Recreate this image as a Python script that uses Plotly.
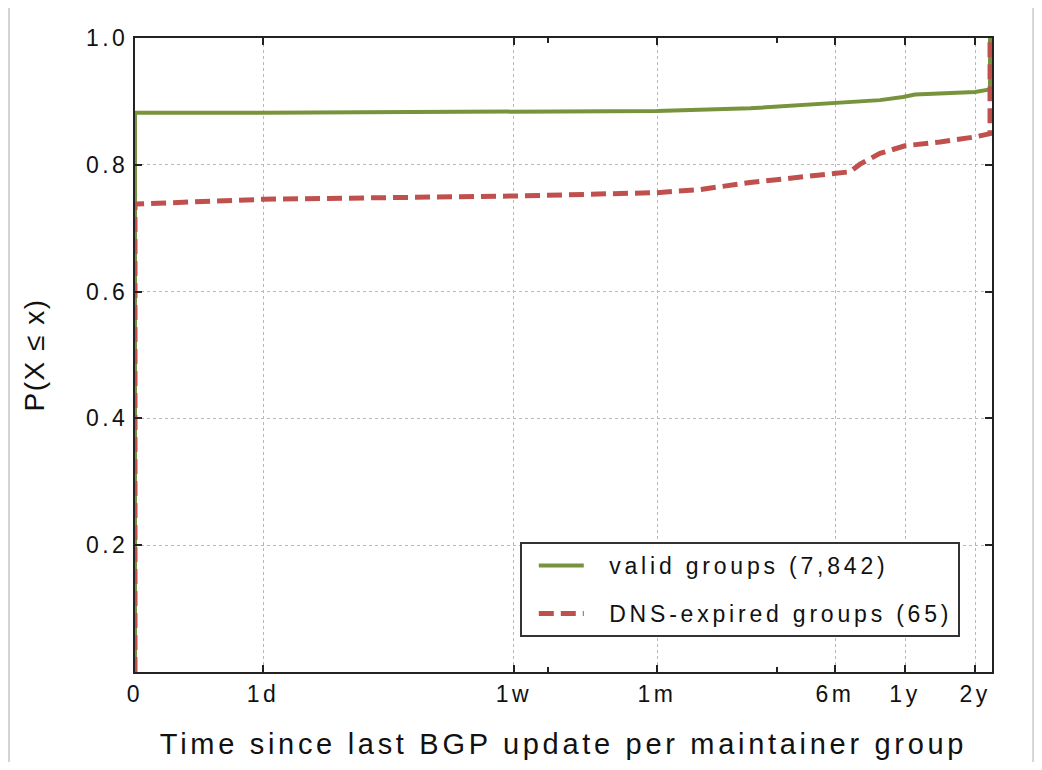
import plotly.graph_objects as go

# x axis unit: position along the time axis (0 = "0", 100 = right edge of plot)
tick_pos = [0, 14.94, 44.22, 60.91, 81.68, 89.85, 98.02]
tick_text = ["0", "1d", "1w", "1m", "6m", "1y", "2y"]
minor_pos = [48.19, 74.91]

y_ticks = [0.2, 0.4, 0.6, 0.8, 1.0]

valid_x = [0, 0, 14.94, 44.22, 60.91, 71.77, 81.68, 86.93, 89.61, 91.01, 98.02, 99.77, 99.77]
valid_y = [0.0, 0.882, 0.882, 0.883, 0.885, 0.889, 0.897, 0.902, 0.907, 0.911, 0.915, 0.919, 1.0]

dns_x = [0, 0, 14.94, 33.37, 44.22, 60.91, 65.93, 71.76, 77.60, 81.68, 83.43, 84.60, 86.93, 89.85, 93.93, 98.02, 99.77, 99.77]
dns_y = [0.0, 0.738, 0.7456, 0.7487, 0.7508, 0.756, 0.761, 0.772, 0.780, 0.7866, 0.789, 0.801, 0.818, 0.830, 0.836, 0.844, 0.849, 1.0]

series_names = ["valid groups (7,842)", "DNS-expired groups (65)"]

GREEN = "#77933C"
RED = "#C0504D"
FONT = "Liberation Sans, Arial, sans-serif"
INK = "#111111"
PAD = "\u00a0\u00a0"  # gap between legend line sample and its label

fig = go.Figure()
fig.add_trace(go.Scatter(x=valid_x, y=valid_y, mode="lines", name=PAD + series_names[0],
                         legendgroup="a", line=dict(color=GREEN, width=4)))
fig.add_trace(go.Scatter(x=dns_x, y=dns_y, mode="lines", name=PAD + series_names[1],
                         legendgroup="b", line=dict(color=RED, width=5, dash="15px,7px")))

axis_common = dict(showline=True, linecolor="#222222", linewidth=2, mirror="ticks",
                   ticks="inside", ticklen=7, tickwidth=2, tickcolor="#222222",
                   showgrid=True, gridcolor="#b8b8b8", griddash="dot", gridwidth=1,
                   zeroline=False, automargin=False,
                   tickfont=dict(family=FONT, size=23, color=INK))

fig.update_xaxes(range=[0, 100], tickmode="array", tickvals=tick_pos, ticktext=tick_text,
                 minor=dict(tickmode="array", tickvals=minor_pos, ticks="inside", ticklen=5,
                            tickwidth=2, tickcolor="#222222", showgrid=False),
                 title=dict(text="Time since last BGP update per maintainer group",
                            font=dict(family=FONT, size=29, color=INK), standoff=28),
                 **axis_common)
fig.update_yaxes(range=[0, 1], tickmode="array", tickvals=y_ticks, tickformat=".1f",
                 title=dict(text="P(X ≤ x)", font=dict(family=FONT, size=28, color=INK),
                            standoff=44),
                 **axis_common)

border = dict(color="#d4d4d4", width=2)
fig.update_layout(
    width=1026, height=754,
    margin=dict(l=127, r=42, t=30, b=90),
    plot_bgcolor="white", paper_bgcolor="white",
    showlegend=True,
    legend=dict(x=0.449, y=0.205, xanchor="left", yanchor="top",
                bgcolor="white", bordercolor="#333333", borderwidth=2,
                font=dict(family=FONT, size=23, color=INK),
                tracegroupgap=15, itemwidth=45, indentation=12),
    shapes=[
        dict(type="line", xref="paper", yref="paper", x0=-0.147, x1=-0.147, y0=-0.3, y1=1.052, line=border),
        dict(type="line", xref="paper", yref="paper", x0=-0.147, x1=1.048, y0=1.052, y1=1.052, line=border),
        dict(type="line", xref="paper", yref="paper", x0=1.048, x1=1.048, y0=-0.3, y1=1.052, line=border),
    ],
)

css = (".xtick text{letter-spacing:3.5px} .ytick text{letter-spacing:3.5px} "
       ".g-xtitle text{letter-spacing:3.7px} .g-ytitle text{letter-spacing:1.5px} "
       ".legendtext{letter-spacing:3.8px}")
post = ("var gd=document.getElementById('{plot_id}');"
        "var s=document.createElement('style');s.textContent='" + css + "';"
        "document.head.appendChild(s);"
        "Plotly.relayout(gd,{'legend.font.size':23.01});")

fig.write_html("out.html", post_script=post)
